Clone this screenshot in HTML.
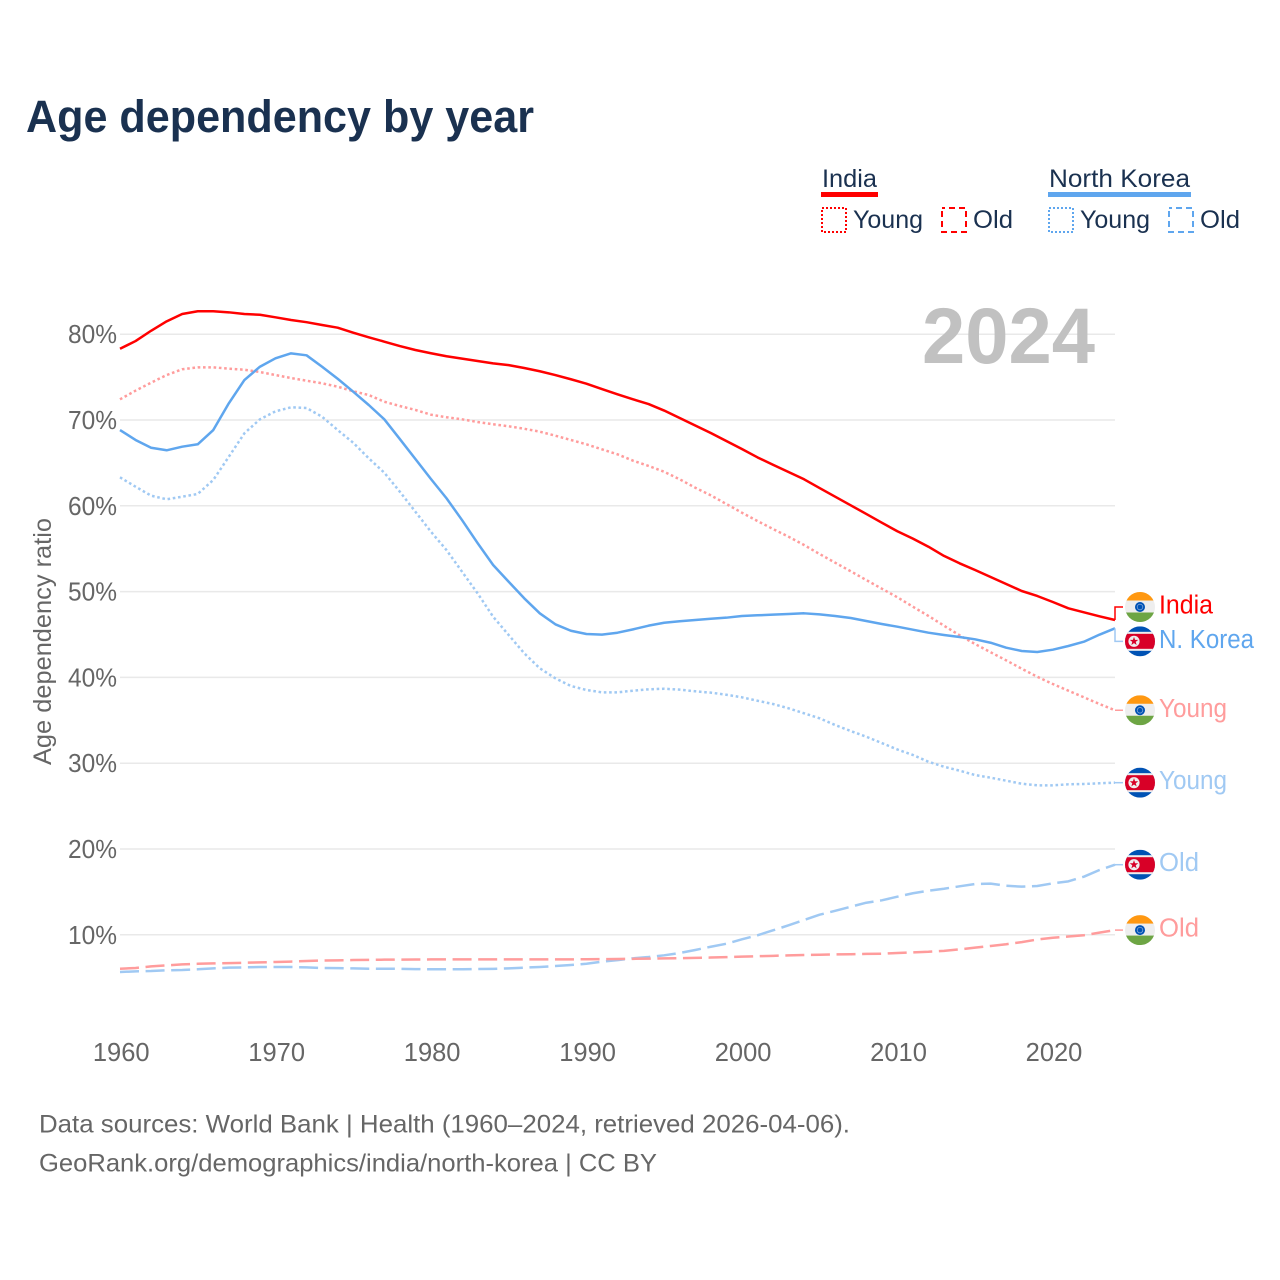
<!DOCTYPE html>
<html lang="en">
<head>
<meta charset="utf-8">
<title>Age dependency by year</title>
<style>
html,body{margin:0;padding:0;background:#fff;}
svg{display:block;font-family:"Liberation Sans",sans-serif;}
</style>
</head>
<body>
<svg id="chart" xmlns="http://www.w3.org/2000/svg" width="1280" height="1280" viewBox="0 0 1280 1280">
  <defs><clipPath id="flag-clip"><circle cx="0" cy="0" r="15"/></clipPath></defs>
  <rect x="0" y="0" width="1280" height="1280" fill="#fff"/>
  <text x="26" y="132" font-size="45" font-weight="700" fill="#1a3150" textLength="508" lengthAdjust="spacingAndGlyphs">Age dependency by year</text>

  <g fill="#1a3150" font-size="25">
    <g>
      <text x="822" y="187" textLength="55" lengthAdjust="spacingAndGlyphs">India</text>
      <rect x="821" y="192" width="57" height="5" fill="#ff0000"/>
    </g>
    <g>
      <rect x="822" y="208" width="24" height="24" fill="none" stroke="#ff0000" stroke-width="2" stroke-dasharray="2 2"/>
      <text x="853" y="228" textLength="70" lengthAdjust="spacingAndGlyphs">Young</text>
    </g>
    <g>
      <rect x="942" y="208" width="24" height="24" fill="none" stroke="#ff0000" stroke-width="2" stroke-dasharray="6 4" stroke-dashoffset="3"/>
      <text x="973" y="228" textLength="40" lengthAdjust="spacingAndGlyphs">Old</text>
    </g>
    <g>
      <text x="1049" y="187" textLength="141" lengthAdjust="spacingAndGlyphs">North Korea</text>
      <rect x="1048" y="192" width="143" height="5" fill="#5fa6ee"/>
    </g>
    <g>
      <rect x="1049" y="208" width="24" height="24" fill="none" stroke="#5fa6ee" stroke-width="2" stroke-dasharray="2 2"/>
      <text x="1080" y="228" textLength="70" lengthAdjust="spacingAndGlyphs">Young</text>
    </g>
    <g>
      <rect x="1169" y="208" width="24" height="24" fill="none" stroke="#5fa6ee" stroke-width="2" stroke-dasharray="6 4" stroke-dashoffset="3"/>
      <text x="1200" y="228" textLength="40" lengthAdjust="spacingAndGlyphs">Old</text>
    </g>
  </g>

  <g id="grid"></g>
  <text x="922" y="363" font-size="79" font-weight="700" fill="#c1c1c1" textLength="173" lengthAdjust="spacingAndGlyphs">2024</text>
  <g id="yticks" fill="#666" font-size="25.5"></g>
  <g id="xticks" fill="#666" font-size="25.5" text-anchor="middle"></g>
  <text transform="translate(51,765) rotate(-90)" font-size="25" fill="#666" textLength="247" lengthAdjust="spacingAndGlyphs">Age dependency ratio</text>
  <g id="series" fill="none"></g>
  <g id="endlabels"></g>

  <g fill="#666" font-size="25">
    <text x="39" y="1132.5" textLength="811" lengthAdjust="spacingAndGlyphs">Data sources: World Bank | Health (1960–2024, retrieved 2026-04-06).</text>
    <text x="39" y="1171.5" textLength="618" lengthAdjust="spacingAndGlyphs">GeoRank.org/demographics/india/north-korea | CC BY</text>
  </g>
</svg>

<script>
const years = [1960,1961,1962,1963,1964,1965,1966,1967,1968,1969,1970,1971,1972,1973,1974,1975,1976,1977,1978,1979,1980,1981,1982,1983,1984,1985,1986,1987,1988,1989,1990,1991,1992,1993,1994,1995,1996,1997,1998,1999,2000,2001,2002,2003,2004,2005,2006,2007,2008,2009,2010,2011,2012,2013,2014,2015,2016,2017,2018,2019,2020,2021,2022,2023,2024];
const indiaTotal = [78.3,79.2,80.4,81.5,82.35,82.67,82.67,82.55,82.35,82.27,81.97,81.65,81.4,81.07,80.76,80.18,79.64,79.13,78.62,78.16,77.78,77.43,77.15,76.88,76.6,76.4,76.06,75.68,75.24,74.75,74.23,73.6,73.0,72.41,71.86,71.1,70.23,69.36,68.48,67.55,66.62,65.65,64.79,63.94,63.09,62.07,61.06,60.06,59.05,58.03,57.03,56.17,55.23,54.16,53.3,52.52,51.7,50.89,50.07,49.49,48.79,48.05,47.59,47.12,46.69];
const indiaYoung = [72.41,73.42,74.35,75.24,75.91,76.14,76.14,75.98,75.86,75.59,75.24,74.89,74.58,74.28,73.88,73.35,72.91,72.13,71.63,71.17,70.62,70.32,70.08,69.77,69.5,69.27,68.98,68.64,68.17,67.67,67.17,66.58,66.0,65.26,64.64,63.97,63.09,62.11,61.22,60.21,59.2,58.23,57.3,56.4,55.43,54.38,53.37,52.37,51.35,50.34,49.34,48.24,47.16,46.03,44.91,43.89,42.93,41.99,41.01,40.08,39.23,38.45,37.68,36.9,36.17];
const indiaOld = [6.05,6.13,6.32,6.44,6.55,6.62,6.67,6.7,6.74,6.79,6.83,6.88,6.94,7.0,7.02,7.06,7.08,7.1,7.11,7.12,7.13,7.13,7.13,7.13,7.13,7.13,7.13,7.13,7.13,7.14,7.15,7.16,7.18,7.2,7.22,7.25,7.28,7.31,7.35,7.4,7.45,7.5,7.55,7.6,7.65,7.68,7.72,7.74,7.77,7.8,7.88,7.95,8.02,8.13,8.3,8.5,8.7,8.9,9.15,9.45,9.65,9.8,9.95,10.25,10.55];
const koreaTotal = [68.83,67.67,66.77,66.47,66.89,67.17,68.83,71.95,74.66,76.21,77.19,77.77,77.54,76.21,74.81,73.3,71.75,70.08,67.78,65.45,63.12,60.88,58.34,55.66,53.1,51.15,49.22,47.47,46.19,45.44,45.06,44.98,45.21,45.6,46.03,46.37,46.54,46.69,46.84,46.96,47.16,47.24,47.31,47.39,47.47,47.35,47.16,46.92,46.57,46.22,45.91,45.56,45.21,44.94,44.71,44.44,44.04,43.46,43.08,42.96,43.23,43.66,44.16,44.98,45.72];
const koreaYoung = [63.32,62.23,61.18,60.76,61.06,61.38,63.01,65.72,68.45,70.08,71.01,71.48,71.4,70.38,68.83,67.35,65.54,63.86,61.64,59.31,56.98,54.84,52.32,49.8,47.07,44.94,42.81,41.06,39.9,39.0,38.53,38.26,38.26,38.45,38.61,38.68,38.57,38.38,38.22,37.98,37.68,37.28,36.9,36.4,35.82,35.23,34.45,33.75,33.09,32.35,31.6,30.96,30.17,29.59,29.13,28.62,28.31,27.96,27.61,27.42,27.42,27.54,27.58,27.66,27.73];
const koreaOld = [5.66,5.74,5.78,5.86,5.9,5.98,6.09,6.17,6.2,6.25,6.25,6.25,6.2,6.13,6.11,6.09,6.05,6.05,6.03,6.0,5.98,5.98,5.98,6.01,6.03,6.09,6.17,6.25,6.36,6.48,6.63,6.87,7.05,7.26,7.41,7.61,7.88,8.23,8.61,8.96,9.47,9.94,10.52,11.1,11.72,12.34,12.8,13.27,13.74,14.02,14.44,14.84,15.14,15.37,15.65,15.92,15.96,15.72,15.61,15.69,16.0,16.23,16.77,17.55,18.17];
const yTickValues = [10,20,30,40,50,60,70,80];
const xTickValues = [1960,1970,1980,1990,2000,2010,2020];

const NS = 'http://www.w3.org/2000/svg';
const xScale = function (year) { return 120 + (year - 1960) * 15.547; };
const yScale = function (value) { return 1020.6 - value * 8.58; };

function make(parent, tag, attrs, text) {
  const el = document.createElementNS(NS, tag);
  for (const key in attrs) { el.setAttribute(key, attrs[key]); }
  if (text !== undefined) { el.textContent = text; }
  parent.appendChild(el);
  return el;
}

const gridGroup = document.getElementById('grid');
const yTickGroup = document.getElementById('yticks');
yTickValues.forEach(function (value) {
  const line = make(gridGroup, 'line', { x1: 120, x2: 1115, y1: yScale(value), y2: yScale(value), stroke: '#e9e9e9', 'stroke-width': 1.5 });
  
  
  const label = make(yTickGroup, 'text', { x: 68, y: yScale(value) + 9, textLength: 49, lengthAdjust: 'spacingAndGlyphs' }, value + '%');
  
  
});

const xTickGroup = document.getElementById('xticks');
xTickValues.forEach(function (year) {
  const label = make(xTickGroup, 'text', { x: xScale(year) + 1.2, y: 1061 }, String(year));
  
  
});

function drawLine(values, color, width, dash, name) {
  const points = values.map(function (value, i) { return xScale(years[i]).toFixed(2) + ',' + yScale(value).toFixed(2); }).join(' ');
  const attrs = { points: points, stroke: color, 'stroke-width': width, 'stroke-linejoin': 'round' };
  if (dash) { attrs['stroke-dasharray'] = dash; }
  const line = make(document.getElementById('series'), 'polyline', attrs);
  
  
}

const RED = '#ff0000', BLUE = '#5fa6ee', PINK = '#ff9c9c', SKY = '#a0c9f3';
drawLine(koreaOld, SKY, 2.5, '19 6.6', 'line-north-korea-old');
drawLine(indiaOld, PINK, 2.5, '19 6.6', 'line-india-old');
drawLine(koreaYoung, SKY, 2.5, '2.6 2.7', 'line-north-korea-young');
drawLine(indiaYoung, PINK, 2.5, '2.6 2.7', 'line-india-young');
drawLine(koreaTotal, BLUE, 2.5, null, 'line-north-korea-total');
drawLine(indiaTotal, RED, 2.5, null, 'line-india-total');

function drawIndiaFlag(group) {
  make(group, 'rect', { x: -15, y: -15, width: 30, height: 30, fill: '#eeeeee' });
  make(group, 'rect', { x: -15, y: -15, width: 30, height: 8.5, fill: '#ff9811' });
  make(group, 'rect', { x: -15, y: 5.5, width: 30, height: 9.5, fill: '#6da544' });
  make(group, 'circle', { cx: 0, cy: 0, r: 5, fill: '#0052b4' });
  make(group, 'circle', { cx: 0, cy: 0, r: 2.8, fill: 'none', stroke: '#7fa6d9', 'stroke-width': 0.8 });
}
function drawKoreaFlag(group) {
  make(group, 'rect', { x: -15, y: -15, width: 30, height: 30, fill: '#0052b4' });
  make(group, 'rect', { x: -15, y: -9.5, width: 30, height: 19, fill: '#eeeeee' });
  make(group, 'rect', { x: -15, y: -7.5, width: 30, height: 15, fill: '#d80027' });
  make(group, 'circle', { cx: -6, cy: 0, r: 5.6, fill: '#eeeeee' });
  make(group, 'polygon', { points: '-6,-4.5 -4.94,-1.46 -1.72,-1.39 -4.29,0.56 -3.35,3.64 -6,1.8 -8.65,3.64 -7.71,0.56 -10.28,-1.39 -7.06,-1.46', fill: '#d80027' });
}

function drawEndLabel(values, dodge, text, color, connector, flagKind, width, name) {
  const group = document.getElementById('endlabels');
  const endY = yScale(values[values.length - 1]);
  const labelY = endY + dodge;
  const link = make(group, 'polyline', { points: '1115,' + endY + ' 1115,' + labelY + ' 1123,' + labelY, fill: 'none', stroke: connector, 'stroke-width': 1.5 });
  
  
  const flag = make(group, 'g', { transform: 'translate(1140,' + labelY + ')', 'clip-path': 'url(#flag-clip)' });
  
  
  if (flagKind === 'india') { drawIndiaFlag(flag); } else { drawKoreaFlag(flag); }
  const label = make(group, 'text', { x: 1159, y: labelY + 6.5, fill: color, 'font-size': 25.5, textLength: width, lengthAdjust: 'spacingAndGlyphs' }, text);
  
  
}

drawEndLabel(indiaTotal, -13, 'India', RED, RED, 'india', 54, 'india-total');
drawEndLabel(koreaTotal, 13, 'N. Korea', BLUE, SKY, 'korea', 95, 'north-korea-total');
drawEndLabel(indiaYoung, 0, 'Young', PINK, PINK, 'india', 68, 'india-young');
drawEndLabel(koreaYoung, 0, 'Young', SKY, SKY, 'korea', 68, 'north-korea-young');
drawEndLabel(koreaOld, 0, 'Old', SKY, SKY, 'korea', 40, 'north-korea-old');
drawEndLabel(indiaOld, 0, 'Old', PINK, PINK, 'india', 40, 'india-old');
</script>
</body>
</html>
